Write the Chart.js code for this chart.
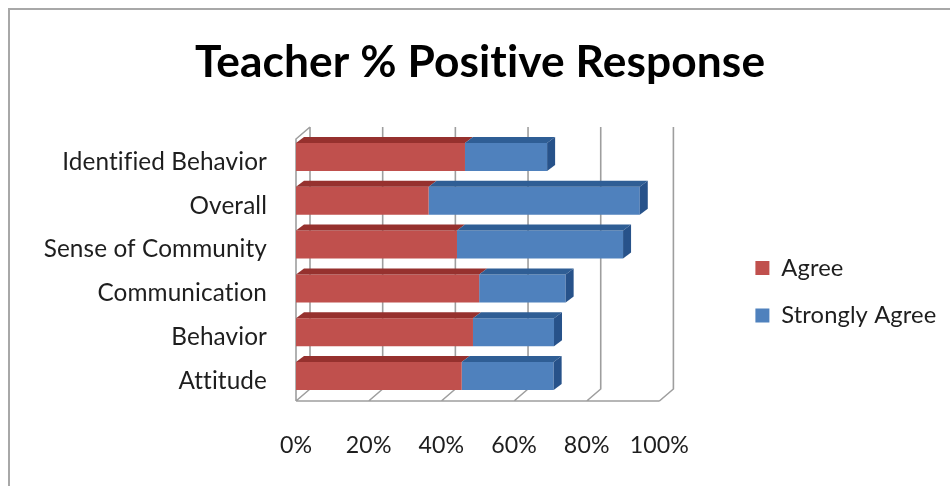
<!DOCTYPE html>
<html><head><meta charset="utf-8">
<script src="https://cdn.jsdelivr.net/npm/chart.js@4.4.1/dist/chart.umd.min.js"></script>
<style>
html,body{margin:0;padding:0;background:#fff;}
#wrap{position:relative;width:950px;height:486px;overflow:hidden;background:#fff;}
#frame{position:absolute;left:8px;top:8px;width:1000px;height:600px;border:2px solid #a8a8a8;box-sizing:border-box;}
canvas{position:absolute;left:0;top:0;}
</style></head><body>
<div id="wrap"><div id="frame"></div><canvas id="c" width="950" height="486"></canvas></div>
<script>
// ---- data ----
const titleText = 'Teacher % Positive Response';
const categories = ['Identified Behavior', 'Overall', 'Sense of Community', 'Communication', 'Behavior', 'Attitude'];
const seriesNames = ['Agree', 'Strongly Agree'];
const agree = [46.5, 36.5, 44.3, 50.4, 48.7, 45.6];
const stronglyAgree = [22.6, 58.1, 45.7, 23.8, 22.3, 25.3];
const xTicks = [0, 20, 40, 60, 80, 100];

// ---- styling ----
const FAMILY = 'Lato, "Open Sans", sans-serif';
const TEXT = '#1e1e1e';
const LSP = '0.1px';
const frontColors = ['#C0504D', '#4F81BD'];
const topColors = ['#96312E', '#2F5E95'];
const sideColors = ['#8A2C29', '#27528A'];

const mctx = document.createElement('canvas').getContext('2d');
mctx.letterSpacing = LSP;
function fit(text, weight, target) {
  mctx.font = weight + ' 100px ' + FAMILY;
  return 100 * target / mctx.measureText(text).width;
}
const F_CAT = fit('Sense of Community', '400', 222);
const F_TICK = fit('100%', '400', 59);
const F_LEG = fit('Strongly Agree', '400', 154);
const F_TITLE = fit(titleText, '700', 569);

const AREA_L = 296, AREA_R = 658, AREA_T = 135, AREA_B = 398;
const legItemH = Math.max(F_LEG, 14);
const legPad = 47.5 - legItemH;
const legLeft = 754 - legPad;
mctx.font = '400 ' + F_LEG + 'px ' + FAMILY;
const legTextW = mctx.measureText('Strongly Agree').width;
const legW = legPad + 14 + F_LEG / 2 + legTextW + 10;
const PAD_R = Math.max(0, 950 - legLeft - legW);
const PAD_L = PAD_R + 10;
const y2W = legLeft - AREA_R;
const titleTop = 62.5 - 0.6 * F_TITLE;
const titleBottom = AREA_T - titleTop - 1.2 * F_TITLE;

const DX = 14, DY = 12, BDX = 8, BDY = 6;

const threeD = {
  id: 'threeD',
  beforeDraw(chart) { chart.ctx.letterSpacing = LSP; },
  beforeDatasetsDraw(chart) {
    const {ctx, chartArea: a, scales: {x}} = chart;
    const fy = a.bottom + 3, ty = a.top - 8;
    ctx.save();
    ctx.strokeStyle = '#9e9e9e';
    ctx.lineWidth = 1.6;
    ctx.beginPath();
    ctx.moveTo(a.left, fy); ctx.lineTo(a.left, ty + DY); ctx.lineTo(a.left + DX, ty);
    ctx.moveTo(a.left, fy); ctx.lineTo(x.getPixelForValue(x.max), fy);
    x.ticks.forEach(t => {
      const px = x.getPixelForValue(t.value);
      ctx.moveTo(px + DX, ty); ctx.lineTo(px + DX, fy - DY); ctx.lineTo(px, fy);
    });
    ctx.stroke();
    ctx.restore();
  },
  afterDatasetsDraw(chart) {
    const ctx = chart.ctx;
    const n = chart.data.datasets.length;
    ctx.save();
    chart.data.datasets.forEach((ds, di) => {
      const meta = chart.getDatasetMeta(di);
      if (meta.hidden) return;
      meta.data.forEach(el => {
        const p = el.getProps(['x', 'y', 'base', 'height'], true);
        const top = p.y - p.height / 2, bot = p.y + p.height / 2;
        ctx.fillStyle = topColors[di];
        ctx.beginPath();
        ctx.moveTo(p.base, top); ctx.lineTo(p.base + BDX, top - BDY);
        ctx.lineTo(p.x + BDX, top - BDY); ctx.lineTo(p.x, top); ctx.closePath();
        ctx.fill();
        if (di === n - 1) {
          ctx.fillStyle = sideColors[di];
          ctx.beginPath();
          ctx.moveTo(p.x, top); ctx.lineTo(p.x + BDX, top - BDY);
          ctx.lineTo(p.x + BDX, bot - BDY); ctx.lineTo(p.x, bot); ctx.closePath();
          ctx.fill();
        }
      });
    });
    ctx.restore();
  }
};

new Chart(document.getElementById('c'), {
  type: 'bar',
  data: {
    labels: categories,
    datasets: [
      {label: seriesNames[0], data: agree, backgroundColor: frontColors[0], borderWidth: 0, xAxisID: 'x', yAxisID: 'y'},
      {label: seriesNames[1], data: stronglyAgree, backgroundColor: frontColors[1], borderWidth: 0, xAxisID: 'x', yAxisID: 'y'}
    ]
  },
  options: {
    indexAxis: 'y',
    responsive: false,
    animation: false,
    layout: {padding: {left: PAD_L, right: PAD_R, top: 0, bottom: 0}},
    datasets: {bar: {barPercentage: 0.64, categoryPercentage: 1.0}},
    scales: {
      x: {
        type: 'linear', stacked: true, min: 0, max: 100, position: 'bottom',
        afterBuildTicks: s => { s.ticks = xTicks.map(v => ({value: v})); },
        afterFit: s => { s.height = 486 - AREA_B; },
        grid: {display: false, drawTicks: false, tickLength: 0},
        border: {display: false},
        ticks: {callback: v => v + '%', color: TEXT, padding: 47.5 - 0.6 * F_TICK,
                font: {family: FAMILY, size: F_TICK, lineHeight: 1.2}, maxRotation: 0, autoSkip: false}
      },
      y: {
        type: 'category', stacked: true, position: 'left',
        afterFit: s => { s.width = AREA_L - PAD_L; },
        grid: {display: false, drawTicks: false, tickLength: 0},
        border: {display: false},
        ticks: {color: TEXT, padding: AREA_L - 267, labelOffset: 5,
                font: {family: FAMILY, size: F_CAT}}
      },
      y2: {
        type: 'linear', position: 'right', display: true,
        afterFit: s => { s.width = y2W; },
        grid: {display: false, drawTicks: false, tickLength: 0},
        border: {display: false},
        ticks: {display: false}
      }
    },
    plugins: {
      title: {
        display: true, text: titleText, color: '#000',
        font: {family: FAMILY, weight: 'bold', size: F_TITLE, lineHeight: 1.2},
        padding: {top: titleTop, bottom: titleBottom}
      },
      legend: {
        position: 'right', fullSize: false, align: 'center', maxWidth: 600,
        title: {display: true, text: '', padding: {top: 49.5, bottom: 0}, font: {size: 1, lineHeight: 1}},
        labels: {boxWidth: 14, boxHeight: 14, padding: legPad, color: TEXT,
                 font: {family: FAMILY, size: F_LEG}}
      },
      tooltip: {enabled: false}
    }
  },
  plugins: [threeD]
});
</script>
</body></html>
